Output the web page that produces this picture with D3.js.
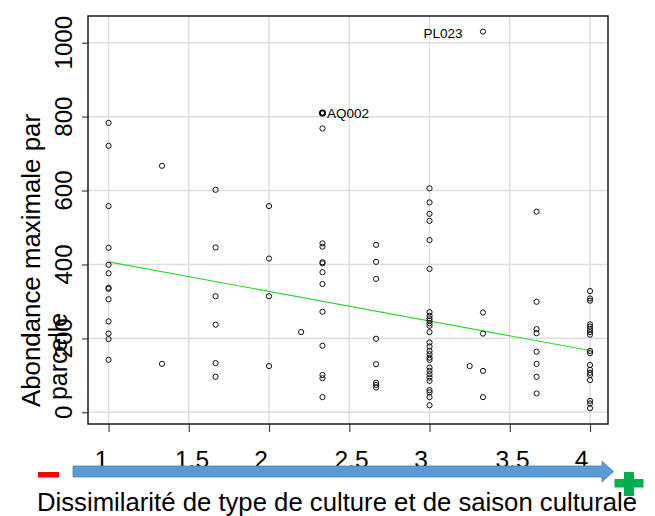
<!DOCTYPE html>
<html>
<head>
<meta charset="utf-8">
<script src="https://cdn.jsdelivr.net/npm/d3@7"></script>
<style>
  html, body { margin: 0; padding: 0; background: #fff; }
  svg { display: block; font-family: "Liberation Sans", Arial, Helvetica, sans-serif; }
</style>
</head>
<body>
<svg id="chart" width="655" height="516"></svg>
<script>
// Dissimilarity levels (x) and the observed maximal abundance per plot at each level
const levels = [1, 1.333, 1.667, 2, 2.2, 2.333, 2.667, 3, 3.25, 3.333, 3.667, 4];
const abundance = [
  [783, 721, 558, 445, 399, 376, 337, 334, 306, 246, 213, 198, 142],
  [667, 131],
  [602, 446, 314, 237, 133, 96],
  [558, 416, 314, 125],
  [217],
  [810, 768, 457, 448, 406, 403, 379, 347, 272, 180, 101, 92, 41],
  [453, 407, 361, 199, 130, 80, 74, 67],
  [606, 568, 537, 518, 466, 388, 271, 261, 254, 248, 241, 234, 217, 189, 178, 166,
   157, 148, 142, 121, 112, 103, 94, 85, 60, 54, 41, 19],
  [125],
  [1030, 270, 213, 112, 41],
  [543, 299, 225, 214, 164, 131, 96, 51],
  [328, 308, 302, 238, 232, 225, 217, 210, 166, 160, 128, 115, 107, 101, 87, 31, 24, 11]
];

// Named outlier plots
const labelNames = ["AQ002", "PL023"];
const labelX = [2.333, 3.333];
const labelY = [810, 1030];
const labelSide = ["right", "left"];

// Fitted linear trend evaluated at the ends of the range
const trendX = [1, 4];
const trendY = [407, 167];

// Axis ticks and labels
const xTicks = [1, 1.5, 2, 2.5, 3, 3.5, 4];
const xTickLabels = ["1", "1.5", "2", "2.5", "3", "3.5", "4"];
const yTicks = [0, 200, 400, 600, 800, 1000];
const yTickLabels = ["0", "200", "400", "600", "800", "1000"];

const xTitle = "Dissimilarité de type de culture et de saison culturale";
const yTitleLines = ["Abondance maximale par", "parcelle"];

// ---- layout ----
const box = { left: 88, right: 608, top: 16, bottom: 424 };
const x = d3.scaleLinear().domain([0.872, 4.112]).range([box.left, box.right]);
const y = d3.scaleLinear().domain([-31.7, 1072.3]).range([box.bottom, box.top]);

const svg = d3.select("#chart");

// grid
const grid = svg.append("g").attr("stroke", "#dedede").attr("stroke-width", 1.5);
grid.selectAll("line.vx").data(xTicks).join("line")
  .attr("x1", d => x(d)).attr("x2", d => x(d))
  .attr("y1", box.top).attr("y2", box.bottom);
grid.selectAll("line.hy").data(yTicks).join("line")
  .attr("x1", box.left).attr("x2", box.right)
  .attr("y1", d => y(d)).attr("y2", d => y(d));

// y axis ticks (labels drawn rotated below)
const yAxis = d3.axisLeft(y).tickValues(yTicks).tickSize(6).tickFormat("");
svg.append("g").attr("transform", `translate(${box.left},0)`).call(yAxis)
  .call(g => g.select(".domain").remove())
  .call(g => g.selectAll("line").attr("stroke", "#444").attr("stroke-width", 1.2));

// x axis ticks under the box
const xAxis = d3.axisBottom(x).tickValues(xTicks).tickSize(8).tickFormat("");
svg.append("g").attr("transform", `translate(0,${box.bottom})`).call(xAxis)
  .call(g => g.select(".domain").remove())
  .call(g => g.selectAll("line").attr("stroke", "#444").attr("stroke-width", 1.2));

// trend line
svg.append("path")
  .datum(trendX.map((d, i) => [d, trendY[i]]))
  .attr("fill", "none").attr("stroke", "#2fd62f").attr("stroke-width", 1.1)
  .attr("d", d3.line().x(d => x(d[0])).y(d => y(d[1])));

// points
const pts = [];
levels.forEach((lv, i) => abundance[i].forEach(v => pts.push([lv, v])));
svg.append("g").selectAll("circle").data(pts).join("circle")
  .attr("cx", d => x(d[0])).attr("cy", d => y(d[1])).attr("r", 2.6)
  .attr("fill", "none").attr("stroke", "#111").attr("stroke-width", 1);

// highlighted named plots
labelNames.forEach((name, i) => {
  const px = x(labelX[i]), py = y(labelY[i]);
  if (labelSide[i] === "right") {
    svg.append("circle").attr("cx", px).attr("cy", py).attr("r", 2.6)
      .attr("fill", "none").attr("stroke", "#000").attr("stroke-width", 1.8);
    svg.append("text").attr("x", px + 4.5).attr("y", py + 5.5)
      .attr("font-size", 13.5).attr("fill", "#000").text(name);
  } else {
    svg.append("text").attr("x", px - 20.5).attr("y", py + 6.5)
      .attr("text-anchor", "end").attr("font-size", 13.5).attr("fill", "#000").text(name);
  }
});

// plot frame
svg.append("rect")
  .attr("x", box.left).attr("y", box.top)
  .attr("width", box.right - box.left).attr("height", box.bottom - box.top)
  .attr("fill", "none").attr("stroke", "#1a1a1a").attr("stroke-width", 1.5);

// rotated y tick labels
svg.append("g").selectAll("text").data(yTicks).join("text")
  .attr("transform", d => `translate(72,${y(d)}) rotate(-90)`)
  .attr("text-anchor", "middle")
  .attr("font-size", 24).attr("fill", "#000")
  .text((d, i) => yTickLabels[i]);

// y title (two lines, left-aligned from the bottom)
svg.append("text")
  .attr("transform", "translate(40,407) rotate(-90)")
  .attr("font-size", 25.5).attr("fill", "#000")
  .attr("textLength", 293).attr("lengthAdjust", "spacingAndGlyphs")
  .text(yTitleLines[0]);
svg.append("text")
  .attr("transform", "translate(67,400) rotate(-90)")
  .attr("font-size", 25.5).attr("fill", "#000")
  .attr("textLength", 87).attr("lengthAdjust", "spacingAndGlyphs")
  .text(yTitleLines[1]);

// x tick labels sitting on the gradient arrow
const xLabelPos = [101.5, 192, 261, 351.5, 421, 512.5, 581.5];
svg.append("g").selectAll("text").data(xTickLabels).join("text")
  .attr("x", (d, i) => xLabelPos[i]).attr("y", 468)
  .attr("text-anchor", "middle").attr("font-size", 24.5).attr("fill", "#000")
  .text(d => d);

// blue arrow from low to high dissimilarity
const arrowPts = [[73, 466], [602, 466], [602, 461], [613.5, 471.5], [602, 482], [602, 477], [73, 477]];
svg.append("path")
  .attr("d", d3.line()(arrowPts) + "Z")
  .attr("fill", "#5b9bd5").attr("stroke", "#4a82b8").attr("stroke-width", 0.8);

// minus sign
svg.append("rect").attr("x", 38).attr("y", 472).attr("width", 21).attr("height", 5.5)
  .attr("fill", "#ff0000");

// plus sign
const plus = svg.append("g").attr("fill", "#00b050");
plus.append("rect").attr("x", 624).attr("y", 472).attr("width", 10).attr("height", 24);
plus.append("rect").attr("x", 614.5).attr("y", 479).attr("width", 29).attr("height", 8.5);

// x title
svg.append("text")
  .attr("x", 37).attr("y", 511)
  .attr("font-size", 25.5).attr("fill", "#000")
  .attr("textLength", 600).attr("lengthAdjust", "spacingAndGlyphs")
  .text(xTitle);
</script>
</body>
</html>
